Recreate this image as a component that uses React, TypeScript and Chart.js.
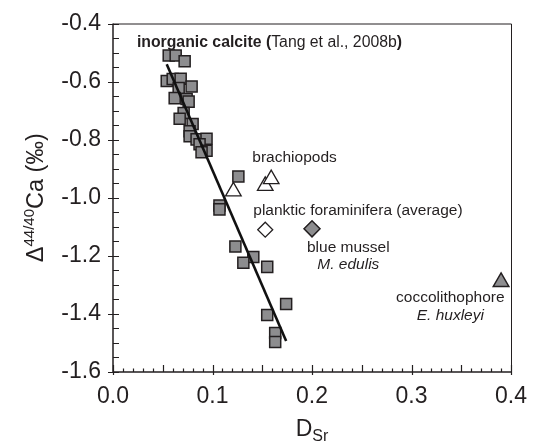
import React, { useEffect, useRef } from "react";
import { Chart, registerables } from "chart.js";
Chart.register(...registerables);

// ---------- data ----------
const calciteDSr = [0.056, 0.063, 0.072, 0.054, 0.060, 0.068, 0.079, 0.066, 0.062, 0.074, 0.076, 0.071, 0.067, 0.080, 0.077, 0.077, 0.084, 0.094, 0.087, 0.094, 0.089, 0.126, 0.107, 0.107, 0.123, 0.141, 0.131, 0.155, 0.174, 0.155, 0.163, 0.163];
const calciteD44 = [-0.510, -0.510, -0.530, -0.598, -0.591, -0.590, -0.617, -0.622, -0.657, -0.660, -0.669, -0.708, -0.728, -0.746, -0.771, -0.788, -0.799, -0.797, -0.816, -0.838, -0.843, -0.927, -1.027, -1.040, -1.168, -1.204, -1.224, -1.238, -1.366, -1.404, -1.466, -1.497];
const fitDSr = [0.054, 0.174];
const fitD44 = [-0.54, -1.493];
const brachiopodDSr = [0.121, 0.153, 0.159];
const brachiopodD44 = [-0.978, -0.959, -0.936];
const foramDSr = [0.153];
const foramD44 = [-1.11];
const musselDSr = [0.2];
const musselD44 = [-1.107];
const coccoDSr = [0.39];
const coccoD44 = [-1.29];

const xTickLabels = ["0.0", "0.1", "0.2", "0.3", "0.4"];
const yTickLabels = ["-0.4", "-0.6", "-0.8", "-1.0", "-1.2", "-1.4", "-1.6"];

const toPts = (xs: number[], ys: number[]) => xs.map((x, i) => ({ x, y: ys[i] }));

const FONT = '"Liberation Sans", Arial, Helvetica, sans-serif';
const INK = "#231f20";
const GRAY = "#8d8d8f";

type Seg = { t: string; f: string; dy?: number };

function drawRich(ctx: CanvasRenderingContext2D, segs: Seg[], x: number, y: number, align: "left" | "center") {
  let w = 0;
  for (const s of segs) { ctx.font = s.f; w += ctx.measureText(s.t).width; }
  let cx = align === "center" ? x - w / 2 : x;
  for (const s of segs) {
    ctx.font = s.f;
    ctx.fillText(s.t, cx, y + (s.dy || 0));
    cx += ctx.measureText(s.t).width;
  }
}

const annotations: { x: number; y: number; align: "left" | "center"; segs: Seg[] }[] = [
  { x: 0.024, y: -0.467, align: "left", segs: [
    { t: "inorganic calcite (", f: `bold 15.8px ${FONT}` },
    { t: "Tang et al., 2008b", f: `15.8px ${FONT}` },
    { t: ")", f: `bold 15.8px ${FONT}` },
  ] },
  { x: 0.140, y: -0.862, align: "left", segs: [{ t: "brachiopods", f: `15.5px ${FONT}` }] },
  { x: 0.141, y: -1.043, align: "left", segs: [{ t: "planktic foraminifera (average)", f: `15.5px ${FONT}` }] },
  { x: 0.2365, y: -1.171, align: "center", segs: [{ t: "blue mussel", f: `15.5px ${FONT}` }] },
  { x: 0.2365, y: -1.229, align: "center", segs: [{ t: "M. edulis", f: `italic 15.5px ${FONT}` }] },
  { x: 0.339, y: -1.343, align: "center", segs: [{ t: "coccolithophore", f: `15.5px ${FONT}` }] },
  { x: 0.339, y: -1.407, align: "center", segs: [{ t: "E. huxleyi", f: `italic 15.5px ${FONT}` }] },
];

const decorPlugin = {
  id: "decor",
  afterDatasetsDraw(chart: any) {
    const ctx: CanvasRenderingContext2D = chart.ctx;
    const xs = chart.scales.x, ys = chart.scales.y;
    const { left, right, top, bottom } = chart.chartArea;
    ctx.save();
    ctx.strokeStyle = INK;
    ctx.lineCap = "butt";
    // frame
    ctx.lineWidth = 1;
    ctx.beginPath();
    ctx.moveTo(left, top + 0.5); ctx.lineTo(right + 0.5, top + 0.5); ctx.lineTo(right + 0.5, bottom);
    ctx.stroke();
    ctx.lineWidth = 1.5;
    ctx.beginPath();
    ctx.moveTo(left, top); ctx.lineTo(left, bottom); ctx.lineTo(right, bottom);
    ctx.stroke();
    // y ticks
    ctx.lineWidth = 1.2;
    ctx.beginPath();
    for (let i = -32; i <= -8; i++) {
      const py = Math.round(ys.getPixelForValue(i * 0.05)) + 0.5;
      if (i % 4 === 0) { ctx.moveTo(left - 5, py); ctx.lineTo(left + 6, py); }
      else { ctx.moveTo(left, py); ctx.lineTo(left + 6, py); }
    }
    // x ticks
    for (let i = 0; i <= 40; i++) {
      const px = Math.round(xs.getPixelForValue(i / 100)) + 0.5;
      if (i % 10 === 0) { ctx.moveTo(px, bottom + 3); ctx.lineTo(px, bottom - 7); }
      else if (i % 5 === 0) { ctx.moveTo(px, bottom); ctx.lineTo(px, bottom - 7); }
      else { ctx.moveTo(px, bottom); ctx.lineTo(px, bottom - 3.5); }
    }
    ctx.stroke();

    // annotations
    ctx.fillStyle = INK;
    ctx.textBaseline = "middle";
    for (const a of annotations) {
      drawRich(ctx, a.segs, xs.getPixelForValue(a.x), ys.getPixelForValue(a.y), a.align);
    }

    // x title D_Sr
    ctx.textBaseline = "alphabetic";
    const cx = (left + right) / 2;
    drawRich(ctx, [
      { t: "D", f: `23px ${FONT}` },
      { t: "Sr", f: `16px ${FONT}`, dy: 5 },
    ], cx, 436, "center");

    // y title (rotated)
    ctx.translate(43, (top + bottom) / 2);
    ctx.rotate(-Math.PI / 2);
    drawRich(ctx, [
      { t: "\u0394", f: `23.5px ${FONT}` },
      { t: "44/40", f: `15px ${FONT}`, dy: -9 },
      { t: "Ca (\u2030)", f: `23.5px ${FONT}` },
    ], 0, 0, "center");
    ctx.restore();
  },
};

export default function App() {
  const ref = useRef<HTMLCanvasElement | null>(null);
  useEffect(() => {
    if (!ref.current) return;
    const tickFont = { family: FONT, size: 23, lineHeight: 1 };
    const chart = new Chart(ref.current, {
      type: "scatter",
      data: {
        datasets: [
          {
            type: "line",
            label: "fit",
            data: toPts(fitDSr, fitD44),
            borderColor: "#111",
            borderWidth: 2.6,
            pointRadius: 0,
            fill: false,
            order: 1,
          } as any,
          {
            label: "inorganic calcite",
            data: toPts(calciteDSr, calciteD44),
            pointStyle: "rect",
            pointRadius: 7.8,
            backgroundColor: GRAY,
            borderColor: INK,
            borderWidth: 1.5,
            order: 2,
          },
          {
            label: "brachiopods",
            data: toPts(brachiopodDSr, brachiopodD44),
            pointStyle: "triangle",
            pointRadius: 9,
            backgroundColor: "#ffffff",
            borderColor: INK,
            borderWidth: 1.3,
            order: 2,
          },
          {
            label: "planktic foraminifera",
            data: toPts(foramDSr, foramD44),
            pointStyle: "rectRot",
            pointRadius: 7.5,
            backgroundColor: "#ffffff",
            borderColor: INK,
            borderWidth: 1.3,
            order: 2,
          },
          {
            label: "blue mussel",
            data: toPts(musselDSr, musselD44),
            pointStyle: "rectRot",
            pointRadius: 8,
            backgroundColor: GRAY,
            borderColor: INK,
            borderWidth: 1.5,
            order: 2,
          },
          {
            label: "coccolithophore",
            data: toPts(coccoDSr, coccoD44),
            pointStyle: "triangle",
            pointRadius: 9,
            backgroundColor: GRAY,
            borderColor: INK,
            borderWidth: 1.5,
            order: 2,
          },
        ],
      },
      options: {
        animation: false,
        responsive: false,
        layout: { padding: { left: 0, right: 27, top: 12, bottom: 0 } },
        plugins: { legend: { display: false }, tooltip: { enabled: false } },
        scales: {
          x: {
            type: "linear",
            min: 0,
            max: 0.4,
            grid: { display: false, drawTicks: false },
            border: { display: false },
            ticks: {
              stepSize: 0.1,
              padding: 13,
              color: INK,
              font: tickFont,
              callback: (v: any) => {
                const i = Math.round(Number(v) * 10);
                return xTickLabels[i] ?? "";
              },
            },
            afterFit: (s: any) => { s.height = 70; },
          },
          y: {
            type: "linear",
            min: -1.6,
            max: -0.4,
            grid: { display: false, drawTicks: false },
            border: { display: false },
            ticks: {
              stepSize: 0.2,
              padding: 12,
              color: INK,
              font: tickFont,
              callback: (v: any) => {
                const i = Math.round((-0.4 - Number(v)) / 0.2);
                return yTickLabels[i] ?? "";
              },
            },
            afterFit: (s: any) => { s.width = 113; },
          },
        },
      },
      plugins: [decorPlugin],
    } as any);
    return () => chart.destroy();
  }, []);
  return (
    <div style={{ position: "fixed", left: 0, top: 0, width: 540, height: 442, background: "#fff" }}>
      <canvas ref={ref} width={540} height={442} style={{ width: 540, height: 442, display: "block" }} />
    </div>
  );
}
